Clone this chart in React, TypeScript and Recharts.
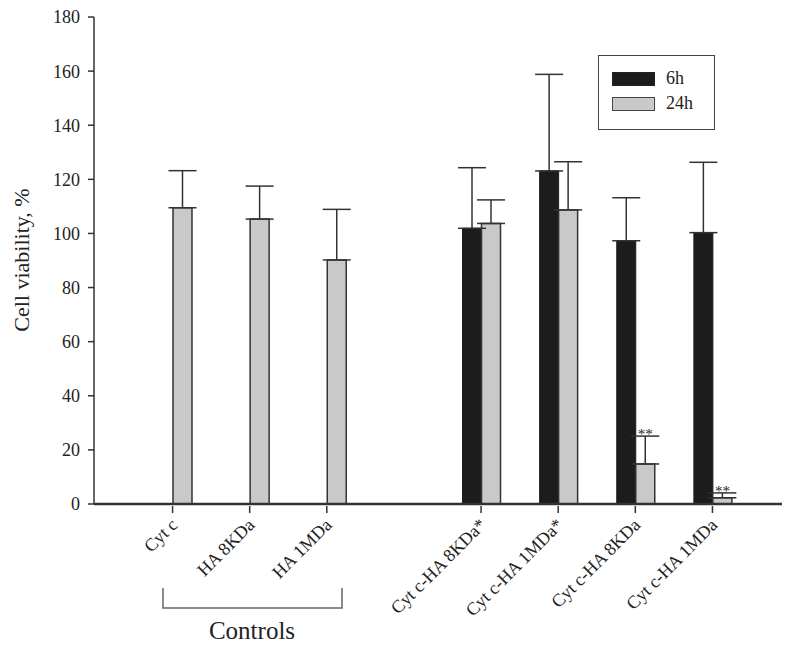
import React from 'react';
import {
  BarChart,
  Bar,
  XAxis,
  YAxis,
  ErrorBar,
  LabelList,
} from 'recharts';

// groups; the empty one is the gap between controls and conjugates
const categories = [
  'Cyt c',
  'HA 8KDa',
  'HA 1MDa',
  '',
  'Cyt c-HA 8KDa*',
  'Cyt c-HA 1MDa*',
  'Cyt c-HA 8KDa',
  'Cyt c-HA 1MDa',
];
const h6 = [null, null, null, null, 101.9, 123.1, 97.3, 100.3];
const h6Err = [null, null, null, null, 22.4, 35.7, 15.9, 26];
const h24 = [109.5, 105.3, 90.2, null, 103.7, 108.7, 14.8, 2.3];
const h24Err = [13.7, 12.2, 18.7, null, 8.7, 17.8, 10.3, 1.8];
const stars = ['', '', '', '', '', '', '**', '**'];
const yTicks = [0, 20, 40, 60, 80, 100, 120, 140, 160, 180];

const data = categories.map((name, i) => ({
  name,
  h6: h6[i],
  h6Err: h6Err[i] == null ? null : [0, h6Err[i]],
  h24: h24[i],
  h24Err: h24Err[i] == null ? null : [0, h24Err[i]],
  idx: i,
}));

const FONT = 'Liberation Serif, Times New Roman, serif';
const AXIS = '#333';
const BLACK = '#1c1c1c';
const GRAY = '#c9c9c9';

function CategoryTick(props: any) {
  const { x, y, payload } = props;
  if (!payload.value) return null;
  return (
    <g>
      <line x1={x} y1={y - 6} x2={x} y2={y + 1} stroke={AXIS} strokeWidth={1.5} />
      <text
        x={x + 6}
        y={y + 14}
        transform={`rotate(-45, ${x + 6}, ${y + 14})`}
        textAnchor="end"
        style={{ fontFamily: FONT, fontSize: 18 }}
        fill="#222"
      >
        {payload.value}
      </text>
    </g>
  );
}

// "**" above the 24h error bar; the bar's own height/value gives the px scale
function StarLabel(props: any) {
  const vb = props.viewBox || props;
  const i = Number(props.value);
  const mark = stars[i];
  if (!mark) return null;
  const v = h24[i] as number;
  const errPx = v ? (Math.abs(vb.height) / v) * (h24Err[i] as number) : 0;
  return (
    <text
      x={vb.x + vb.width / 2}
      y={vb.y - errPx + 3}
      textAnchor="middle"
      style={{ fontFamily: FONT, fontSize: 15 }}
      fill="#222"
    >
      {mark}
    </text>
  );
}

function YLabel() {
  return (
    <text
      x={22}
      y={260}
      dy={7}
      transform="rotate(-90, 22, 260)"
      textAnchor="middle"
      style={{ fontFamily: FONT, fontSize: 22 }}
      fill="#222"
    >
      Cell viability, %
    </text>
  );
}

export default function App() {
  return (
    <div style={{ position: 'absolute', left: 0, top: 0, width: 800, height: 652, background: '#fff' }}>
      <BarChart
        width={800}
        height={652}
        data={data}
        margin={{ top: 17, right: 18, left: 0, bottom: 0 }}
        barGap={0}
        barSize={19}
      >
        <XAxis
          dataKey="name"
          xAxisId={0}
          height={148}
          interval={0}
          padding={{ left: 40, right: 31 }}
          tickLine={false}
          axisLine={{ stroke: AXIS, strokeWidth: 2.5 }}
          tick={<CategoryTick />}
        />
        <XAxis
          dataKey="name"
          xAxisId="top"
          orientation="top"
          height={0}
          tick={false}
          tickLine={false}
          axisLine={{ stroke: AXIS, strokeWidth: 1.5 }}
        />
        <YAxis
          yAxisId={0}
          width={94}
          domain={[0, 180]}
          ticks={yTicks}
          interval={0}
          tickSize={6}
          tickMargin={8}
          tickLine={{ stroke: AXIS, strokeWidth: 1.5 }}
          axisLine={{ stroke: AXIS, strokeWidth: 1.5 }}
          tick={{ style: { fontFamily: FONT, fontSize: 18 }, fill: '#222' }}
          label={<YLabel />}
        />
        <YAxis
          yAxisId="right"
          orientation="right"
          width={0}
          domain={[0, 180]}
          tick={false}
          tickLine={false}
          axisLine={{ stroke: AXIS, strokeWidth: 1.5 }}
        />
        <Bar dataKey="h6" fill={BLACK} stroke={BLACK} strokeWidth={1} isAnimationActive={false}>
          <ErrorBar dataKey="h6Err" direction="y" width={14} stroke={AXIS} strokeWidth={1.5} />
        </Bar>
        <Bar dataKey="h24" fill={GRAY} stroke={AXIS} strokeWidth={1.5} isAnimationActive={false}>
          <ErrorBar dataKey="h24Err" direction="y" width={14} stroke={AXIS} strokeWidth={1.5} />
          <LabelList dataKey="idx" content={<StarLabel />} />
        </Bar>
      </BarChart>

      {/* legend box */}
      <div
        style={{
          position: 'absolute',
          left: 598,
          top: 55,
          width: 115,
          height: 73,
          border: '1.5px solid #444',
          fontFamily: FONT,
          fontSize: 18,
          color: '#222',
        }}
      >
        <div style={{ position: 'absolute', left: 13, top: 16, width: 43, height: 14, background: BLACK, border: '1px solid #222', boxSizing: 'border-box' }} />
        <div style={{ position: 'absolute', left: 67, top: 12, lineHeight: '20px' }}>6h</div>
        <div style={{ position: 'absolute', left: 13, top: 41, width: 43, height: 14, background: GRAY, border: '1.5px solid #444', boxSizing: 'border-box' }} />
        <div style={{ position: 'absolute', left: 67, top: 37, lineHeight: '20px' }}>24h</div>
      </div>

      {/* controls bracket */}
      <svg style={{ position: 'absolute', left: 0, top: 0 }} width={800} height={652}>
        <polyline
          points="163,588 163,608 342,608 342,588"
          fill="none"
          stroke="#666"
          strokeWidth={1.5}
        />
        <text x={252} y={639} textAnchor="middle" style={{ fontFamily: FONT, fontSize: 25 }} fill="#222">
          Controls
        </text>
      </svg>
    </div>
  );
}
